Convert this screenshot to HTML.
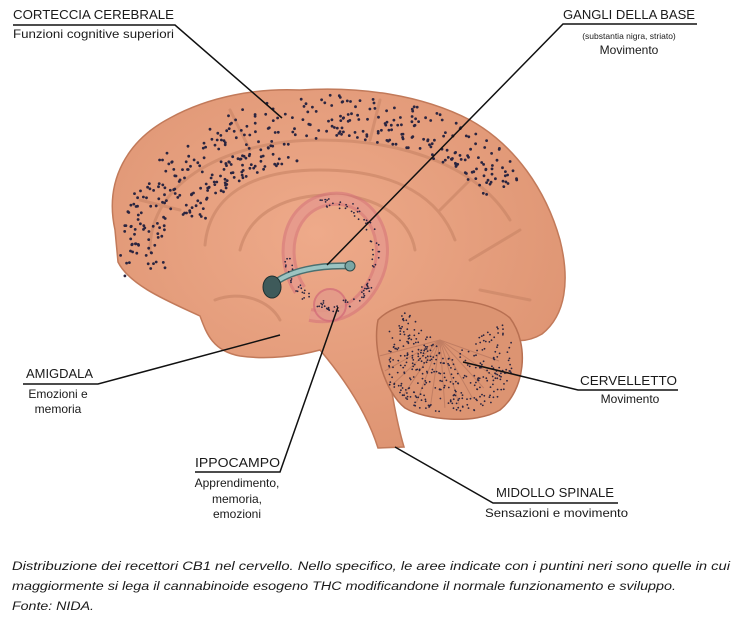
<!DOCTYPE html>
<html><head><meta charset="utf-8"><style>
html,body{margin:0;padding:0;background:#fff;width:742px;height:624px;overflow:hidden}
svg{display:block}
text{font-family:"Liberation Sans",sans-serif;fill:#1a1a1a}
</style></head><body>
<svg id="s" width="742" height="624" viewBox="0 0 742 624" xmlns="http://www.w3.org/2000/svg">
<defs>
<radialGradient id="bg" cx="0.45" cy="0.4" r="0.7">
<stop offset="0" stop-color="#eeaa8a"/><stop offset="1" stop-color="#dc9270"/>
</radialGradient>
</defs>
<path d="M115,230 C104,180 128,140 170,118 C210,96 258,88 300,90 C360,86 422,95 470,120 C515,145 546,190 560,240 C570,280 566,315 542,334 C522,346 502,340 490,330 L462,302 C424,296 392,304 384,322 L386,345 C389,380 396,420 404,447 L378,448 C366,410 342,376 320,350 C298,356 268,360 240,356 C212,351 206,332 200,316 C170,302 130,286 118,262 Z" fill="url(#bg)" stroke="#c27a5a" stroke-width="1.5"/>
<g fill="none" stroke="#c88465" stroke-width="3" opacity="0.6" stroke-linecap="round">
<path d="M150,250 C150,180 230,140 320,140 C410,140 480,170 510,220"/>
<path d="M205,245 C210,190 260,170 320,170 C400,170 440,200 455,240"/>
<path d="M240,250 C250,210 290,195 330,195 C380,195 410,220 415,250"/>
<path d="M230,110 L250,150 M380,100 L370,140 M470,180 L440,210 M520,230 L470,260 M530,300 L480,290 M140,200 L180,210"/>
<path d="M215,300 C240,290 270,300 280,320"/>
</g>
<path d="M300,290 C280,260 285,210 325,200 C370,190 395,240 375,280 C360,310 335,320 310,315" fill="none" stroke="#d46f7a" stroke-width="14" opacity="0.55"/>
<path d="M300,290 C280,260 285,210 325,200 C370,190 395,240 375,280 C360,310 335,320 310,315" fill="none" stroke="#e8a08e" stroke-width="8" opacity="0.8"/>
<circle cx="330" cy="305" r="16" fill="#e39a8a" stroke="#d46f7a" stroke-width="2" opacity="0.8"/>
<path d="M272,285 C290,270 320,265 350,266" fill="none" stroke="#4a7070" stroke-width="7" stroke-linecap="round"/>
<path d="M272,285 C290,270 320,265 350,266" fill="none" stroke="#9cc4c2" stroke-width="4" stroke-linecap="round"/>
<ellipse cx="272" cy="287" rx="9" ry="11" fill="#3e5a5a" stroke="#1e3030"/>
<circle cx="350" cy="266" r="5" fill="#7aa6a4" stroke="#2e4a4a"/>
<path d="M378,320 C400,295 480,292 510,318 C530,345 525,390 500,410 C475,425 425,420 405,408 C385,392 372,350 378,320 Z" fill="#dc9472" stroke="#b87052" stroke-width="1.5"/>
<g id="cb" stroke="#b0705a" stroke-width="1" opacity="0.6"></g>
<g id="dots" fill="#2a2540"></g>
<g stroke="#111" stroke-width="1.5" fill="none">
<polyline points="13,25 175,25 282,118"/>
<polyline points="697,24 563,24 327,265"/>
<polyline points="23,384 98,384 280,335"/>
<polyline points="195,472 280,472 338,307"/>
<polyline points="678,390 578,390 463,362"/>
<polyline points="618,503 493,503 395,447"/>
</g>
<text x="13" y="19" font-size="12.5" textLength="161" lengthAdjust="spacingAndGlyphs">CORTECCIA CEREBRALE</text>
<text x="13" y="38" font-size="12" textLength="161" lengthAdjust="spacingAndGlyphs">Funzioni cognitive superiori</text>
<text x="563" y="19" font-size="12.5" textLength="132" lengthAdjust="spacingAndGlyphs">GANGLI DELLA BASE</text>
<text x="629" y="39" font-size="8.5" text-anchor="middle">(substantia nigra, striato)</text>
<text x="629" y="54" font-size="12" text-anchor="middle">Movimento</text>
<text x="26" y="378" font-size="12.5" textLength="67" lengthAdjust="spacingAndGlyphs">AMIGDALA</text>
<text x="58" y="398" font-size="12" text-anchor="middle">Emozioni e</text>
<text x="58" y="413" font-size="12" text-anchor="middle">memoria</text>
<text x="195" y="467" font-size="12.5" textLength="85" lengthAdjust="spacingAndGlyphs">IPPOCAMPO</text>
<text x="237" y="487" font-size="12" text-anchor="middle">Apprendimento,</text>
<text x="237" y="503" font-size="12" text-anchor="middle">memoria,</text>
<text x="237" y="518" font-size="12" text-anchor="middle">emozioni</text>
<text x="580" y="385" font-size="12.5" textLength="97" lengthAdjust="spacingAndGlyphs">CERVELLETTO</text>
<text x="630" y="403" font-size="12" text-anchor="middle">Movimento</text>
<text x="496" y="497" font-size="12.5" textLength="118" lengthAdjust="spacingAndGlyphs">MIDOLLO SPINALE</text>
<text x="485" y="517" font-size="12" textLength="143" lengthAdjust="spacingAndGlyphs">Sensazioni e movimento</text>
<text x="12" y="570" font-size="11.5" font-style="italic" textLength="718" lengthAdjust="spacingAndGlyphs">Distribuzione dei recettori CB1 nel cervello. Nello specifico, le aree indicate con i puntini neri sono quelle in cui</text>
<text x="12" y="590" font-size="11.5" font-style="italic" textLength="664" lengthAdjust="spacingAndGlyphs">maggiormente si lega il cannabinoide esogeno THC modificandone il normale funzionamento e sviluppo.</text>
<text x="12" y="610" font-size="11.5" font-style="italic" textLength="82" lengthAdjust="spacingAndGlyphs">Fonte: NIDA.</text>
</svg>
<script>
(function(){
var seed=7;function r(){seed=(seed*16807)%2147483647;return seed/2147483647;}
var ns="http://www.w3.org/2000/svg",g=document.getElementById("dots"),cb=document.getElementById("cb");
function dot(x,y,rad){var c=document.createElementNS(ns,"circle");c.setAttribute("cx",x.toFixed(1));c.setAttribute("cy",y.toFixed(1));c.setAttribute("r",rad);g.appendChild(c);}
var cx=335,cy=245;
for(var i=0;i<360;i++){var a=Math.PI*(0.93+r()*0.92);var t=r();
 var rx=215-t*45, ry=150-t*45;
 var x=cx+rx*Math.cos(a), y=cy+ry*Math.sin(a);
 if(y<95||x<115||x>520)continue; if(a<Math.PI*1.0&&r()<0.3)continue; dot(x,y,1.4);}
for(var i=0;i<90;i++){var a=Math.PI*(1.05+r()*0.4);var t=r();
 var x=320+(140-t*25)*Math.cos(a), y=230+(90-t*22)*Math.sin(a); dot(x,y,1.4);}
for(var i=0;i<110;i++){var a=-Math.PI*0.6+r()*Math.PI*1.6;var rr=52+(r()-0.5)*10;
 var x=332+rr*Math.cos(a)*0.85, y=255+rr*Math.sin(a); if(y>315)continue; dot(x,y,0.9);}
for(var k=0;k<12;k++){var a=Math.PI*(0.1+k*0.075);var l=document.createElementNS(ns,"line");
 l.setAttribute("x1",440);l.setAttribute("y1",340);l.setAttribute("x2",(440+62*Math.cos(a)).toFixed(1));l.setAttribute("y2",(340+68*Math.sin(a)).toFixed(1));cb.appendChild(l);}
for(var i=0;i<380;i++){var a=Math.PI*(-0.2+r()*1.5);var rr=Math.sqrt(r())*60;
 var x=448+rr*Math.cos(a)*1.1, y=358+rr*Math.sin(a);
 if(x<388||x>512||y<305||y>412)continue; dot(x,y,0.9);}
})();
</script>
</body></html>
